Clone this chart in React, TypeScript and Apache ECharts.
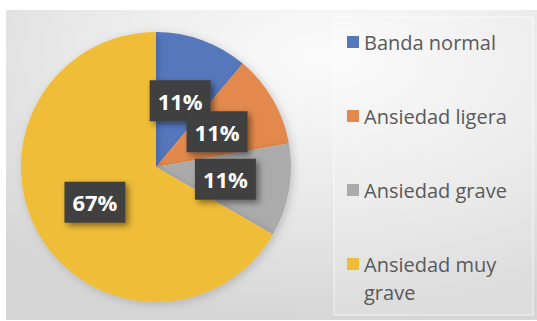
import React, { useEffect, useRef } from "react";
import * as echarts from "echarts";

const categories = ["Banda normal", "Ansiedad ligera", "Ansiedad grave", "Ansiedad muy grave"];
const values = [1, 1, 1, 6];
const colors = ["#5578bd", "#e3894d", "#ababab", "#efbd38"];

export default function App() {
  const ref = useRef<HTMLDivElement>(null);
  useEffect(() => {
    if (!ref.current) return;
    const chart = echarts.init(ref.current, undefined, { renderer: "svg" });
    const legendText = {
      fontFamily: "Open Sans",
      fontSize: 20,
      color: "#595959",
      lineHeight: 28,
    };
    chart.setOption({
      animation: false,
      backgroundColor: "#ffffff",
      graphic: [
        {
          type: "rect",
          z: -10,
          silent: true,
          shape: { x: 6, y: 10, width: 531, height: 310 },
          style: {
            fill: {
              type: "radial",
              x: 0.6,
              y: 0.15,
              r: 0.85,
              colorStops: [
                { offset: 0, color: "#fbfbfb" },
                { offset: 0.55, color: "#e9e9e9" },
                { offset: 1, color: "#d6d6d6" },
              ],
            },
          },
        },
        {
          type: "rect",
          z: -9,
          silent: true,
          shape: { x: 334, y: 17, width: 199, height: 298 },
          style: {
            fill: "rgba(255,255,255,0.15)",
            stroke: "rgba(255,255,255,0.45)",
            lineWidth: 1.5,
          },
        },
      ],
      legend: [
        {
          orient: "vertical",
          left: 347,
          top: 28,
          padding: 0,
          itemGap: 46,
          itemWidth: 12,
          itemHeight: 12,
          icon: "rect",
          data: categories.slice(0, 3),
          textStyle: legendText,
        },
        {
          orient: "vertical",
          left: 347,
          top: 222,
          padding: 0,
          itemWidth: 12,
          itemHeight: 12,
          icon: "rect",
          data: categories.slice(3),
          formatter: (name: string) => "\u00a0\n" + name.replace("muy ", "muy\n"),
          textStyle: legendText,
        },
      ],
      series: [
        {
          type: "pie",
          center: [156, 167],
          radius: 135,
          startAngle: 90,
          clockwise: true,
          percentPrecision: 0,
          avoidLabelOverlap: false,
          labelLayout: { hideOverlap: false },
          data: categories.map((name, i) => ({
            name,
            value: values[i],
            itemStyle: { color: colors[i] },
          })),
          itemStyle: {
            shadowBlur: 8,
            shadowColor: "rgba(0,0,0,0.18)",
            shadowOffsetX: 2,
            shadowOffsetY: 2,
          },
          label: {
            show: true,
            position: "inside",
            formatter: "{d}%",
            color: "#ffffff",
            fontFamily: "Open Sans",
            fontWeight: "bold",
            fontSize: 22,
            lineHeight: 23,
            backgroundColor: "#404040",
            padding: [9, 8],
            shadowColor: "rgba(0,0,0,0.45)",
            shadowBlur: 6,
            shadowOffsetX: 3,
            shadowOffsetY: 3,
          },
          labelLine: { show: false },
          emphasis: { disabled: true },
        },
      ],
    });
    return () => chart.dispose();
  }, []);
  return (
    <div
      ref={ref}
      style={{ position: "fixed", left: 0, top: 0, width: 537, height: 321 }}
    />
  );
}
